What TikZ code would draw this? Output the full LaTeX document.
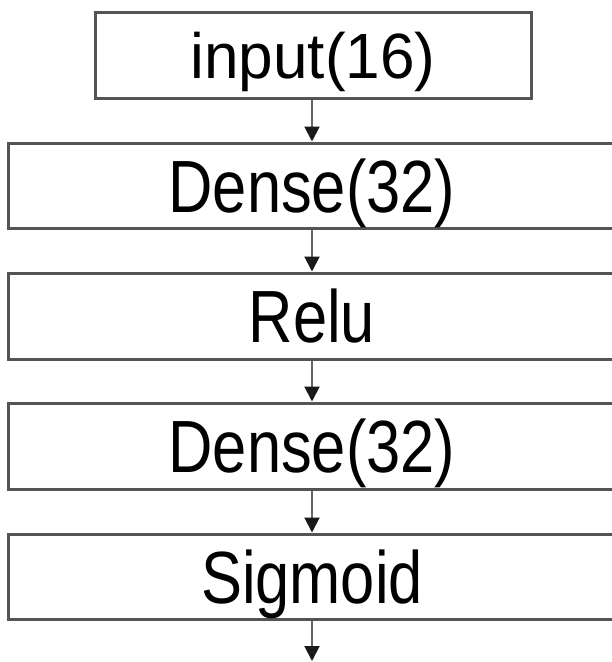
\documentclass[tikz,border=0pt]{standalone}
\usepackage{fontspec}
\setmainfont{Liberation Sans}
\usetikzlibrary{arrows.meta}
\definecolor{edge}{gray}{0.33}
\definecolor{shaft}{gray}{0.4}
\tikzset{
  layer/.style={draw=edge, line width=3pt, fill=white, rectangle, inner sep=0pt,
    text height=53pt, text depth=0pt,
    font=\fontsize{74}{88}\selectfont},
  inlayer/.style={layer, text height=46pt,
    font=\fontsize{64}{76}\selectfont},
  flow/.style={draw=shaft, line width=2pt,
    -{Triangle[length=15pt,width=15pt,color=black!90,fill=black!90]}}
}
\newcommand{\lbl}[1]{\scalebox{0.83}[1]{#1}}
\newcommand{\inlbl}[1]{\scalebox{0.97}[1]{#1}}
\begin{document}
\begin{tikzpicture}[x=1pt,y=-1pt]
  \useasboundingbox (0,0) rectangle (612,662);
  \fill[white] (0,0) rectangle (612,662);
  % network layers, top to bottom
  \node[inlayer, minimum width=436pt, minimum height=86pt] (inp) at (313,55) {\inlbl{input(16)}};
  \node[layer, minimum width=608pt, minimum height=85pt] (d1) at (312,185.5) {\lbl{Dense(32)}};
  \node[layer, minimum width=608pt, minimum height=86pt] (relu) at (312,316) {\lbl{Relu}};
  \node[layer, minimum width=608pt, minimum height=86pt] (d2) at (312,446) {\lbl{Dense(32)}};
  \node[layer, minimum width=608pt, minimum height=85pt] (sig) at (312,576.5) {\lbl{Sigmoid}};
  \coordinate (out) at (312,661);
  % connections
  \draw[flow] (inp.south -| d1.north) -- (d1.north);
  \draw[flow] (d1.south) -- (relu.north);
  \draw[flow] (relu.south) -- (d2.north);
  \draw[flow] (d2.south) -- (sig.north);
  \draw[flow] (sig.south) -- (out);
\end{tikzpicture}
\end{document}
